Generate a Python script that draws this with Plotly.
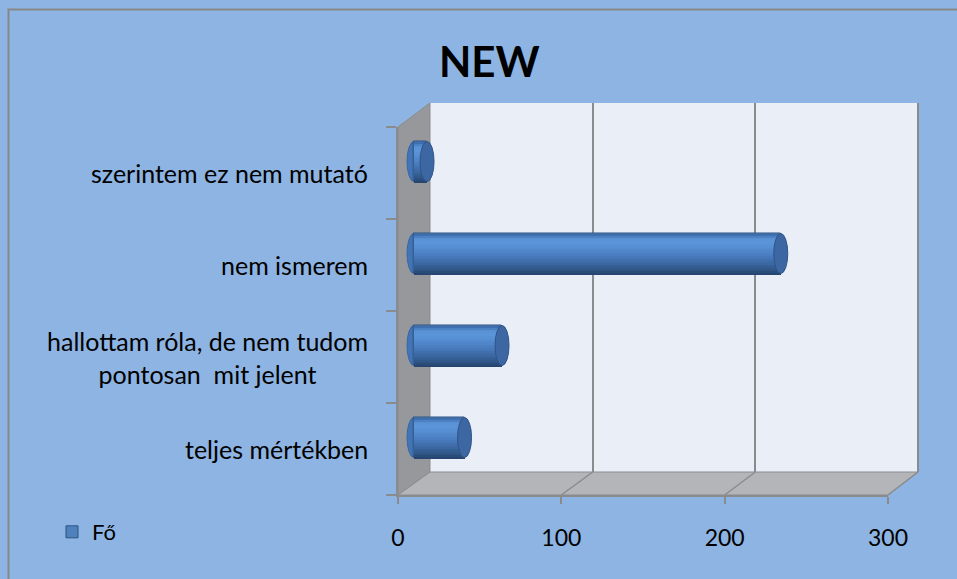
import plotly.graph_objects as go

# ---------------- data ----------------
categories = ["teljes mértékben",
              "hallottam róla, de nem tudom<br>pontosan  mit jelent",
              "nem ismerem",
              "szerintem ez nem mutató"]
values = [31, 54, 225, 8]
series_name = "Fő"
title_text = "NEW"
x_ticks = [0, 100, 200, 300]

# ---------------- layout helpers ----------------
W, H = 957, 579
def fx(p):
    return p / W
def fy(p):
    return 1 - p / H

FONT = "Lato, 'Open Sans', sans-serif"
BG = "#8DB4E2"
EDGE = "#8A8B8E"

front_x0, front_x1 = 398, 888
front_top, front_bot = 127, 495
back_x0, back_x1 = 430, 918
back_top, back_bot = 103, 472
mid_dy = 11.5
x_max = 300
x_pad = 10

mid_x0 = (back_x0 + front_x0) / 2
mid_scale = (back_x1 + front_x1) / 2 - mid_x0
px_per_unit = mid_scale / x_max

bar_w = 0.435
cap_a = 7 / px_per_unit

# gradient stops for the cylinder (bottom -> top)
stops = [(0.0, (0x24, 0x42, 0x6B)), (0.12, (0x2F, 0x55, 0x86)), (0.3, (0x3D, 0x6A, 0xA6)),
         (0.5, (0x4B, 0x80, 0xC3)), (0.7, (0x57, 0x90, 0xD4)), (0.8, (0x5C, 0x96, 0xD9)),
         (0.9, (0x56, 0x8F, 0xD2)), (0.96, (0x46, 0x79, 0xBB)), (1.0, (0x37, 0x64, 0xA2))]
def grad(t):
    for (t0, c0), (t1, c1) in zip(stops[:-1], stops[1:]):
        if t <= t1:
            f = (t - t0) / (t1 - t0)
            return "rgb(%d,%d,%d)" % tuple(round(a + (b - a) * f) for a, b in zip(c0, c1))
    return "rgb(%d,%d,%d)" % stops[-1][1]
n_bands = 24

fig = go.Figure()

fig.add_trace(go.Scatter(x=values, y=categories, mode="markers",
                         marker=dict(opacity=0), hoverinfo="skip",
                         showlegend=False, xaxis="x", yaxis="y"))
fig.add_trace(go.Scatter(x=[], y=[], xaxis="x2", yaxis="y2",
                         showlegend=False, hoverinfo="skip"))

fig.add_trace(go.Bar(x=values, y=categories, orientation="h", name=series_name,
                     width=bar_w, marker=dict(color="#4F81BD",
                                              line=dict(color="#2E5282", width=1)),
                     xaxis="x3", yaxis="y3", showlegend=True))
for k in range(n_bands):
    bw = bar_w / n_bands
    fig.add_trace(go.Bar(x=values, y=categories, orientation="h",
                         width=bw * 1.05, offset=-bar_w / 2 + k * bw,
                         marker=dict(color=grad((k + 0.5) / n_bands), line=dict(width=0)),
                         xaxis="x3", yaxis="y3", showlegend=False,
                         hoverinfo="skip"))

shapes = []
shapes.append(dict(type="rect", xref="paper", yref="paper",
                   x0=fx(8.5), x1=fx(1100), y0=fy(700), y1=fy(9.5),
                   line=dict(color="#878787", width=2), fillcolor="rgba(0,0,0,0)",
                   layer="below"))
shapes.append(dict(type="rect", xref="paper", yref="paper",
                   x0=fx(back_x0), x1=fx(back_x1), y0=fy(back_bot), y1=fy(back_top),
                   fillcolor="#E9EEF7", line=dict(width=0), layer="below"))
def path(pts):
    return "M " + " L ".join(f"{fx(a):.5f},{fy(b):.5f}" for a, b in pts) + " Z"
shapes.append(dict(type="path", xref="paper", yref="paper",
                   path=path([(front_x0, front_top), (back_x0, back_top),
                              (back_x0, back_bot), (front_x0, front_bot)]),
                   fillcolor="#96989B", line=dict(color=EDGE, width=1), layer="below"))
shapes.append(dict(type="path", xref="paper", yref="paper",
                   path=path([(front_x0, front_bot), (back_x0, back_bot),
                              (back_x1, back_bot), (front_x1, front_bot)]),
                   fillcolor="#B3B5B9", line=dict(color=EDGE, width=1), layer="below"))
for t in x_ticks[1:]:
    xf = front_x0 + (front_x1 - front_x0) * t / x_max
    xb = back_x0 + (back_x1 - back_x0) * t / x_max
    shapes.append(dict(type="line", xref="paper", yref="paper",
                       x0=fx(xf), y0=fy(front_bot), x1=fx(xb), y1=fy(back_bot),
                       line=dict(color=EDGE, width=1.5), layer="below"))
shapes.append(dict(type="line", xref="paper", yref="paper",
                   x0=fx(back_x1), y0=fy(back_bot), x1=fx(back_x1), y1=fy(back_top),
                   line=dict(color=EDGE, width=2), layer="below"))

for i, v in enumerate(values):
    shapes.append(dict(type="circle", xref="x3", yref="y3",
                       x0=-cap_a, x1=cap_a, y0=i - bar_w / 2, y1=i + bar_w / 2,
                       fillcolor="#4275B5", line=dict(color="#3A67A4", width=1),
                       layer="below"))
    shapes.append(dict(type="circle", xref="x3", yref="y3",
                       x0=v - cap_a, x1=v + cap_a, y0=i - bar_w / 2, y1=i + bar_w / 2,
                       fillcolor="#3D67A3", line=dict(color="#2F5488", width=1),
                       layer="above"))

annotations = []
for c in categories:
    annotations.append(dict(text=c, x=fx(370), xref="paper", y=c, yref="y",
                            xanchor="right", yanchor="middle", align="center",
                            showarrow=False, font=dict(family=FONT, size=25, color="#000")))
annotations.append(dict(text=f"<b>{title_text}</b>", x=fx(489), y=fy(61),
                        xref="paper", yref="paper", showarrow=False,
                        xanchor="center", yanchor="middle",
                        font=dict(family=FONT, size=42, color="#000")))

mid_left_px = mid_x0 - x_pad * px_per_unit
fig.update_layout(
    width=W, height=H, autosize=False,
    margin=dict(l=0, r=0, t=0, b=0, pad=0, autoexpand=False),
    paper_bgcolor=BG, plot_bgcolor="rgba(0,0,0,0)",
    barmode="overlay", bargap=0,
    showlegend=True,
    legend=dict(x=fx(52), y=fy(532), xanchor="left", yanchor="middle",
                bgcolor="rgba(0,0,0,0)", itemwidth=30,
                font=dict(family=FONT, size=22, color="#000")),
    xaxis=dict(domain=[fx(front_x0), fx(front_x1)], range=[0, x_max], anchor="y",
               tickvals=x_ticks, showgrid=False, zeroline=False, automargin=False,
               showline=True, linecolor=EDGE, linewidth=2,
               ticks="outside", ticklen=7, tickcolor=EDGE, tickwidth=2,
               ticklabelstandoff=14,
               tickfont=dict(family=FONT, size=23, color="#000"), fixedrange=True),
    yaxis=dict(domain=[fy(front_bot), fy(front_top)], anchor="x", type="category",
               categoryorder="array", categoryarray=categories, range=[-0.5, 3.5],
               showgrid=False, zeroline=False, showline=True, linecolor=EDGE,
               linewidth=2, ticks="outside", tickson="boundaries", ticklen=10,
               tickcolor=EDGE, tickwidth=2, showticklabels=False, automargin=False),
    xaxis2=dict(domain=[fx(back_x0), fx(back_x1)], range=[0, x_max], anchor="y2",
                tickvals=x_ticks[1:-1], showgrid=True, gridcolor=EDGE, gridwidth=2,
                showticklabels=False, zeroline=False, showline=False, ticks="",
                automargin=False),
    yaxis2=dict(domain=[fy(back_bot), fy(back_top)], anchor="x2", range=[0, 1],
                visible=False, showgrid=False, automargin=False),
    xaxis3=dict(domain=[fx(mid_left_px), fx(mid_x0 + mid_scale)],
                range=[-x_pad, x_max], anchor="y3", visible=False, showgrid=False,
                automargin=False),
    yaxis3=dict(domain=[fy(front_bot - mid_dy), fy(front_top - mid_dy)], anchor="x3",
                type="category", categoryorder="array", categoryarray=categories,
                range=[-0.5, 3.5], visible=False, showgrid=False, automargin=False),
    shapes=shapes, annotations=annotations,
)

fig.write_html("out.html", config={"responsive": False, "displayModeBar": False},
               post_script="document.body.style.margin='0px';"
                           "document.body.style.overflow='hidden';")
